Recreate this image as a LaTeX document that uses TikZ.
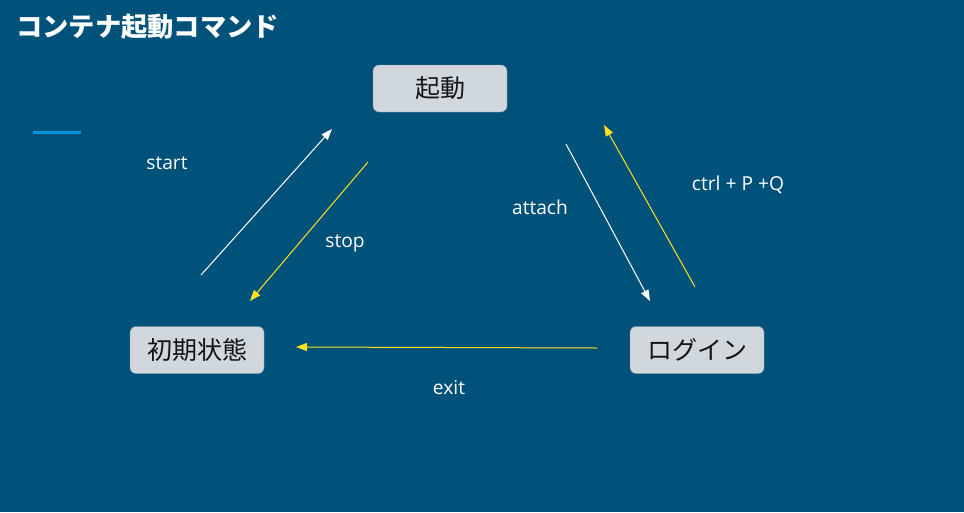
\documentclass[tikz,border=0pt]{standalone}
\usepackage{fontspec}
\setmainfont{Open Sans}
\newfontfamily\cjk{Noto Sans CJK JP}
\usetikzlibrary{arrows.meta}
\definecolor{bgblue}{HTML}{00527A}
\definecolor{boxgray}{HTML}{D0D8DE}
\definecolor{linkyellow}{HTML}{FFE01E}
\definecolor{barblue}{HTML}{0095DD}

\begin{document}
\begin{tikzpicture}[x=1pt, y=-1pt, state node/.style={rectangle, rounded corners=6pt, fill=boxgray, draw=boxgray!70!black, line width=0.4pt, minimum width=134pt, minimum height=47pt, font=\cjk\fontsize{25}{27}\selectfont, text=black!92}, white arrow/.style={draw=white, line width=1pt, -{Triangle[length=11pt, width=8pt]}}, yellow arrow/.style={draw=linkyellow, line width=1pt, -{Triangle[length=11pt, width=8pt]}}, cmd label/.style={font=\fontsize{19.2}{21}\selectfont, text=white}]

\fill[bgblue] (0,0) rectangle (964,512);
\useasboundingbox (0,0) rectangle (964,512);

\node[anchor=west, inner sep=0pt, text=white, font=\cjk\bfseries\fontsize{26.3}{28}\selectfont] (title) at (16,27) {コンテナ起動コマンド};
\fill[barblue] (33,130.5) rectangle (81,133.5);

\node[state node] (n0) at (440,88.5) {起動};
\node[state node] (n1) at (197,350) {初期状態};
\node[state node] (n2) at (697,350) {ログイン};

\coordinate (s0) at (201,275);
\coordinate (s1) at (332,129);
\coordinate (t0) at (368,162);
\coordinate (t1) at (250,301);
\coordinate (a0) at (566,144);
\coordinate (a1) at (650,301);
\coordinate (q0) at (695,287);
\coordinate (q1) at (604,125);
\coordinate (e0) at (597,348);
\coordinate (e1) at (296,347);

\path[white arrow] (s0) -- (s1);
\path[yellow arrow] (t0) -- (t1);
\path[white arrow] (a0) -- (a1);
\path[yellow arrow] (q0) -- (q1);
\path[yellow arrow] (e0) -- (e1);

\node[cmd label] (l0) at (167,163) {start};
\node[cmd label] (l1) at (345,243) {stop};
\node[cmd label] (l2) at (540,207) {attach};
\node[cmd label] (l3) at (738,185) {ctrl + P +Q};
\node[cmd label] (l4) at (449,388) {exit};
\end{tikzpicture}
\end{document}
